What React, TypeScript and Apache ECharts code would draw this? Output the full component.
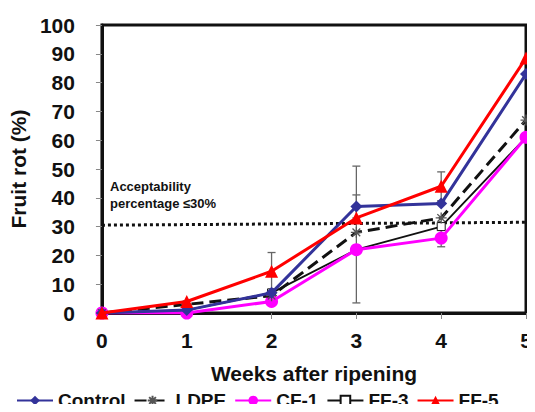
import React, { useEffect, useRef } from "react";
import * as echarts from "echarts";

const weeks = [0, 1, 2, 3, 4, 5];
const control = [0, 1, 7, 37, 38, 83];
const ldpe = [0, 3, 6, 28, 33, 67];
const cf1 = [0, 0, 4, 22, 26, 61];
const ff3 = [0, 1, 7, 22, 30, 61];
const ff5 = [0, 4, 14.5, 33, 44, 88.5];
// error bars: [week, low, high]
const errorBars = [
  [2, 7, 21],
  [3, 3.5, 51],
  [3, 33, 41],
  [4, 39, 49],
  [4, 23, 29],
];
const threshold = [[0, 30.5], [5, 31.5]];
const yTicks = [0, 100, 10];

const pair = (arr: number[]) => weeks.map((w, i) => [w, arr[i]]);

const FONT = "'Liberation Sans', Arial, sans-serif";

export default function App() {
  const ref = useRef<HTMLDivElement>(null);
  useEffect(() => {
    const chart = echarts.init(ref.current!, null, { renderer: "svg" });
    chart.setOption({
      animation: false,
      grid: {
        left: 97,
        right: 9,
        top: 25,
        bottom: 99,
        show: true,
        borderColor: "#111",
        borderWidth: 3,
      },
      xAxis: {
        type: "value",
        min: 0,
        max: 5,
        interval: 1,
        name: "Weeks after ripening",
        nameLocation: "middle",
        nameGap: 50,
        nameTextStyle: { fontFamily: FONT, fontWeight: "bold", fontSize: 21, color: "#111" },
        axisLine: { lineStyle: { color: "#111", width: 3 } },
        axisTick: { show: true, inside: false, length: 6, lineStyle: { color: "#888", width: 1 } },
        axisLabel: { fontFamily: FONT, fontWeight: "bold", fontSize: 21, color: "#111", margin: 17 },
        splitLine: { show: false },
      },
      yAxis: {
        type: "value",
        min: yTicks[0],
        max: yTicks[1],
        interval: yTicks[2],
        name: "Fruit rot (%)",
        nameLocation: "middle",
        nameGap: 66,
        nameTextStyle: { fontFamily: FONT, fontWeight: "bold", fontSize: 21, color: "#111" },
        axisLine: { show: true, lineStyle: { color: "#111", width: 3 } },
        axisTick: { show: true, inside: false, length: 6, lineStyle: { color: "#888", width: 1 } },
        axisLabel: { fontFamily: FONT, fontWeight: "bold", fontSize: 21, color: "#111", margin: 27 },
        splitLine: { show: false },
      },
      legend: {
        top: 391,
        left: 16,
        width: 535,
        padding: 0,
        itemWidth: 36,
        itemHeight: 12,
        itemGap: 8,
        textStyle: { fontFamily: FONT, fontWeight: "bold", fontSize: 19, color: "#111" },
        data: ["Control", "LDPE", "CF-1", "FF-3", "FF-5"],
      },
      series: [
        {
          type: "line",
          name: "threshold",
          data: threshold,
          symbol: "none",
          lineStyle: { color: "#111", width: 3, type: [3, 3] },
          silent: true,
          z: 1,
        },
        {
          type: "custom",
          name: "errors",
          data: errorBars,
          z: 2,
          renderItem: (params: any, api: any) => {
            const x = api.value(0);
            const lo = api.coord([x, api.value(1)]);
            const hi = api.coord([x, api.value(2)]);
            const cap = 4;
            const style = { stroke: "#666", lineWidth: 1.3 };
            return {
              type: "group",
              children: [
                { type: "line", shape: { x1: lo[0], y1: lo[1], x2: hi[0], y2: hi[1] }, style },
                { type: "line", shape: { x1: lo[0] - cap, y1: lo[1], x2: lo[0] + cap, y2: lo[1] }, style },
                { type: "line", shape: { x1: hi[0] - cap, y1: hi[1], x2: hi[0] + cap, y2: hi[1] }, style },
              ],
            };
          },
        },
        {
          type: "line",
          name: "FF-3",
          data: pair(ff3),
          symbol: "rect",
          symbolSize: 8,
          showAllSymbol: true,
          lineStyle: { color: "#111", width: 1.8 },
          itemStyle: { color: "#fff", borderColor: "#111", borderWidth: 1 },
          z: 3,
        },
        {
          type: "line",
          name: "CF-1",
          data: pair(cf1),
          symbol: "circle",
          symbolSize: 13,
          lineStyle: { color: "#ff00ff", width: 3 },
          itemStyle: { color: "#ff00ff" },
          z: 4,
        },
        {
          type: "line",
          name: "LDPE",
          data: pair(ldpe),
          symbol: "path://M0,5 L10,5 M5,0 L5,10 M1.5,1.5 L8.5,8.5 M8.5,1.5 L1.5,8.5",
          symbolSize: 11,
          lineStyle: { color: "#111", width: 3, type: [12, 6] },
          itemStyle: { color: "none", borderColor: "#555", borderWidth: 1.3 },
          z: 5,
        },
        {
          type: "line",
          name: "Control",
          data: pair(control),
          symbol: "diamond",
          symbolSize: 12,
          lineStyle: { color: "#33339a", width: 3 },
          itemStyle: { color: "#33339a" },
          z: 6,
        },
        {
          type: "line",
          name: "FF-5",
          data: pair(ff5),
          symbol: "triangle",
          symbolSize: 13,
          lineStyle: { color: "#ff0000", width: 3 },
          itemStyle: { color: "#ff0000" },
          z: 7,
        },
      ],
      graphic: [
        {
          type: "text",
          left: 110,
          top: 178,
          style: {
            text: "Acceptability\npercentage ≤30%",
            fontFamily: FONT,
            fontWeight: "bold",
            fontSize: 13,
            lineHeight: 17,
            fill: "#111",
          },
        },
      ],
    });
    return () => chart.dispose();
  }, []);
  return <div ref={ref} style={{ width: 535, height: 412, margin: -8 }} />;
}
